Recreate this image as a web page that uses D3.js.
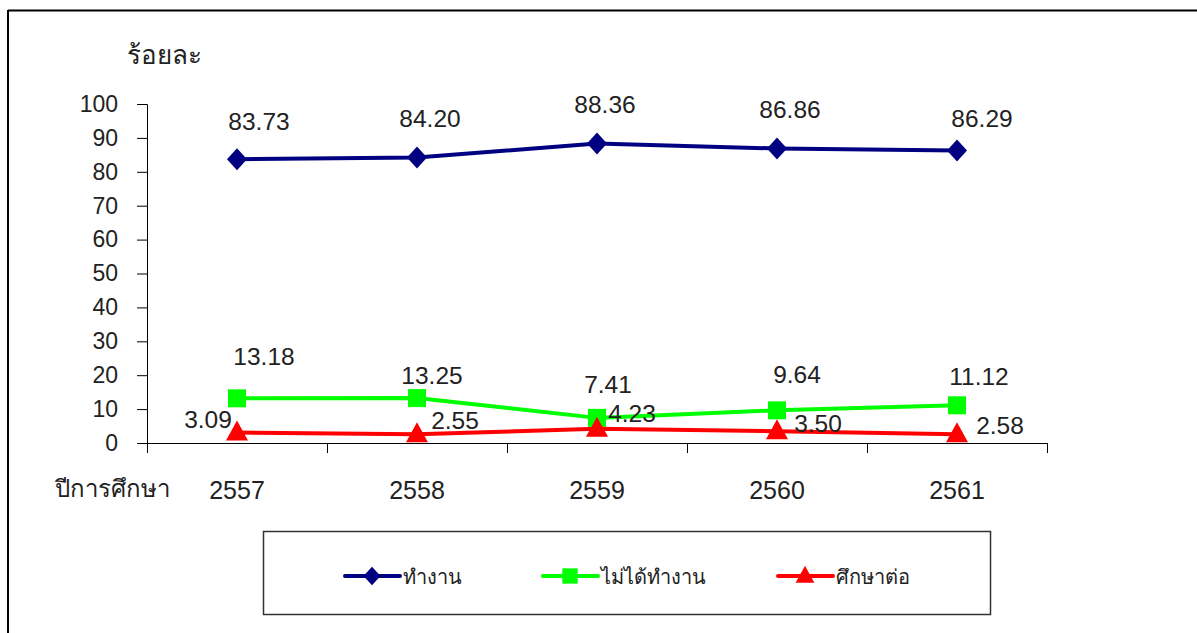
<!DOCTYPE html>
<html>
<head>
<meta charset="utf-8">
<script src="https://cdn.jsdelivr.net/npm/d3@7"></script>
<style>
  body { margin: 0; background: #fff; }
  text { font-family: Tahoma, "Liberation Sans", "Noto Sans", sans-serif; fill: #222; }
</style>
</head>
<body>
<svg id="chart" width="1197" height="633"></svg>
<script>
// data
var years = ["2557", "2558", "2559", "2560", "2561"];
var working = [83.73, 84.20, 88.36, 86.86, 86.29];
var notWorking = [13.18, 13.25, 7.41, 9.64, 11.12];
var studying = [3.09, 2.55, 4.23, 3.50, 2.58];
var yTicks = [0, 10, 20, 30, 40, 50, 60, 70, 80, 90, 100];
var seriesNames = ["ทำงาน", "ไม่ได้ทำงาน", "ศึกษาต่อ"];

// label nudges (dx, dy from the marker)
var workLabelPos = [[22, -29], [13, -31], [8, -30], [13, -31], [25, -23]];
var notWorkLabelPos = [[27, -33], [15, -14], [11, -25], [20, -27], [22, -20]];
var studyLabelPos = [[-29, -5], [38, -5], [35, -7], [41, 1], [43, 0]];

var svg = d3.select("#chart");

// frame
svg.append("line").attr("x1", 8).attr("x2", 1197).attr("y1", 10.5).attr("y2", 10.5)
    .attr("stroke", "#000").attr("stroke-width", 2);
svg.append("line").attr("x1", 8).attr("x2", 8).attr("y1", 10).attr("y2", 633)
    .attr("stroke", "#000").attr("stroke-width", 2);

var x = d3.scaleBand().domain(years).range([147, 1047]);
var y = d3.scaleLinear().domain([0, 100]).range([443, 104]);

// y axis
var yAxis = svg.append("g").attr("transform", "translate(147,0)")
    .call(d3.axisLeft(y).tickValues(yTicks).tickSize(10).tickPadding(19));
yAxis.selectAll("text").style("font-size", "23px").attr("fill", "#222");
yAxis.select(".domain").attr("d", "M-10,104.5H0.5V443.5");

// x axis: ticks at band edges, below axis line
var edges = years.map(function (d) { return x(d); }).concat([x.range()[1]]);
svg.append("line").attr("x1", 147).attr("x2", 1047).attr("y1", 443.5).attr("y2", 443.5)
    .attr("stroke", "#000");
svg.selectAll(".xtick").data(edges).enter().append("line")
    .attr("x1", function (d) { return d + 0.5; }).attr("x2", function (d) { return d + 0.5; })
    .attr("y1", 443).attr("y2", 453).attr("stroke", "#000");
svg.selectAll(".xlab").data(years).enter().append("text")
    .attr("x", function (d) { return x(d) + x.bandwidth() / 2; })
    .attr("y", 499).attr("text-anchor", "middle").style("font-size", "25px")
    .text(function (d) { return d; });

svg.append("text").attr("x", 112).attr("y", 497).attr("text-anchor", "middle")
    .style("font-size", "24px").text("ปีการศึกษา");
svg.append("text").attr("x", 164).attr("y", 64).attr("text-anchor", "middle")
    .style("font-size", "26px").text("ร้อยละ");

var cx = function (i) { return x(years[i]) + x.bandwidth() / 2; };

var series = [
    { name: seriesNames[0], values: working, color: "#000080", shape: "diamond", lab: workLabelPos },
    { name: seriesNames[1], values: notWorking, color: "#00ff00", shape: "square", lab: notWorkLabelPos },
    { name: seriesNames[2], values: studying, color: "#ff0000", shape: "triangle", lab: studyLabelPos }
];

var line = d3.line()
    .x(function (d, i) { return cx(i); })
    .y(function (d) { return y(d); });

function markerPath(s) {
    if (s.shape === "diamond") return "M0,-11L10,0L0,11L-10,0Z";
    if (s.shape === "triangle") return "M0,-12L11,8L-11,8Z";
    return "M-9,-9H9V9H-9Z";
}

// green first, then red, navy on top
[series[1], series[2], series[0]].forEach(function (s) {
    var g = svg.append("g");
    g.append("path").datum(s.values).attr("d", line)
        .attr("fill", "none").attr("stroke", s.color).attr("stroke-width", 4)
        .attr("stroke-linejoin", "round");
    g.selectAll("path.m").data(s.values).enter().append("path").attr("class", "m")
        .attr("transform", function (d, i) { return "translate(" + cx(i) + "," + y(d) + ")"; })
        .attr("d", markerPath(s)).attr("fill", s.color);
});

// data labels
series.forEach(function (s) {
    svg.selectAll(null).data(s.values).enter().append("text")
        .attr("x", function (d, i) { return cx(i) + s.lab[i][0]; })
        .attr("y", function (d, i) { return y(d) + s.lab[i][1]; })
        .attr("text-anchor", "middle").style("font-size", "24.5px")
        .text(function (d) { return d.toFixed(2); });
});

// legend
svg.append("rect").attr("x", 263.5).attr("y", 531.5).attr("width", 727).attr("height", 83)
    .attr("fill", "#fff").attr("stroke", "#333").attr("stroke-width", 1.5);
var legX = [345, 543, 778];
series.forEach(function (s, i) {
    var g = svg.append("g").attr("transform", "translate(" + legX[i] + ",576)");
    g.append("line").attr("x1", 0).attr("x2", 55).attr("stroke", s.color).attr("stroke-width", 4)
        .attr("stroke-linecap", "round");
    g.append("path").attr("transform", "translate(27,0) scale(0.85)").attr("d", markerPath(s)).attr("fill", s.color);
    g.append("text").attr("x", 58).attr("y", 8).style("font-size", "20px").text(s.name);
});
</script>
</body>
</html>
